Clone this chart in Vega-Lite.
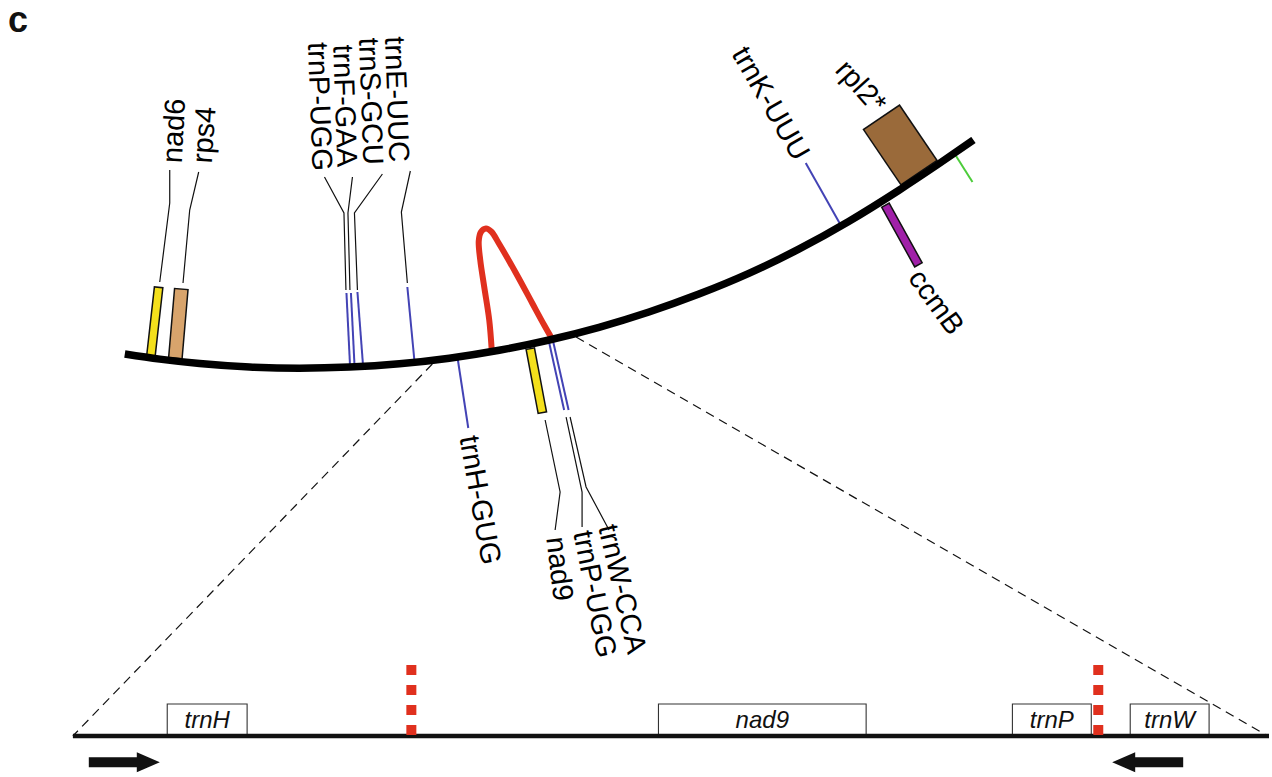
{
  "$schema": "https://vega.github.io/schema/vega-lite/v6.json",
  "width": 1272,
  "height": 777,
  "padding": 0,
  "autosize": {"type": "fit", "contains": "padding"},
  "background": "white",
  "config": {"view": {"stroke": null}, "font": "Liberation Sans"},
  "datasets": {
    "arc": [
      {"x": 125, "y": 354}, {"x": 160, "y": 359.1}, {"x": 200, "y": 363.5}, {"x": 250, "y": 367},
      {"x": 300, "y": 368.2}, {"x": 350, "y": 367.1}, {"x": 400, "y": 363.8}, {"x": 450, "y": 358.2},
      {"x": 500, "y": 350.3}, {"x": 550, "y": 340}, {"x": 600, "y": 327.3}, {"x": 650, "y": 312},
      {"x": 700, "y": 294.1}, {"x": 750, "y": 273.4}, {"x": 800, "y": 249.2}, {"x": 850, "y": 221.5},
      {"x": 900, "y": 190.5}, {"x": 940, "y": 164}, {"x": 975, "y": 140}
    ],
    "loop": [
      {"o": 0, "x": 492.5, "y": 350}, {"o": 1, "x": 490, "y": 320}, {"o": 2, "x": 485, "y": 287},
      {"o": 3, "x": 481, "y": 260}, {"o": 4, "x": 479.5, "y": 241}, {"o": 5, "x": 481.7, "y": 232},
      {"o": 6, "x": 486.7, "y": 228.5}, {"o": 7, "x": 492, "y": 231.5}, {"o": 8, "x": 500, "y": 244},
      {"o": 9, "x": 516.7, "y": 273}, {"o": 10, "x": 533, "y": 303}, {"o": 11, "x": 545, "y": 325},
      {"o": 12, "x": 553, "y": 339}
    ],
    "genes": [
      {"gene": "nad6", "family": "nad", "group": "thin", "x": 151.6, "y": 352, "x2": 158.4, "y2": 291.5},
      {"gene": "rps4", "family": "rps", "group": "mid", "x": 176.2, "y": 351.5, "x2": 181, "y2": 295.8},
      {"gene": "nad9", "family": "nad", "group": "thin", "x": 531.9, "y": 352.9, "x2": 542.4, "y2": 408.4},
      {"gene": "rpl2", "family": "rpl", "group": "wide", "x": 908.2, "y": 154.6, "x2": 895.1, "y2": 135.3},
      {"gene": "ccmB", "family": "ccm", "group": "thin", "x": 888.9, "y": 208.9, "x2": 917.8, "y2": 261.1}
    ],
    "trna": [
      {"name": "trnP-UGG", "kind": "trna", "x": 347, "y": 293, "x2": 350.5, "y2": 364},
      {"name": "trnF-GAA", "kind": "trna", "x": 351.5, "y": 293, "x2": 355, "y2": 364},
      {"name": "trnS-GCU", "kind": "trna", "x": 358, "y": 292, "x2": 363.5, "y2": 364},
      {"name": "trnE-UUC", "kind": "trna", "x": 408, "y": 287, "x2": 415, "y2": 360},
      {"name": "trnH-GUG", "kind": "trna", "x": 458, "y": 356, "x2": 469, "y2": 428},
      {"name": "trnP-UGG b", "kind": "trna", "x": 549, "y": 338, "x2": 565, "y2": 410},
      {"name": "trnW-CCA", "kind": "trna", "x": 553, "y": 337, "x2": 569.5, "y2": 410},
      {"name": "trnK-UUU", "kind": "trna", "x": 807, "y": 163, "x2": 842, "y2": 225},
      {"name": "other", "kind": "other", "x": 955, "y": 152, "x2": 974, "y2": 182}
    ],
    "leaders": [
      {"id": "nad6", "o": 0, "x": 160, "y": 282}, {"id": "nad6", "o": 1, "x": 170, "y": 203}, {"id": "nad6", "o": 2, "x": 170, "y": 170},
      {"id": "rps4", "o": 0, "x": 183.3, "y": 283}, {"id": "rps4", "o": 1, "x": 190, "y": 210}, {"id": "rps4", "o": 2, "x": 199, "y": 172},
      {"id": "trnP", "o": 0, "x": 346.5, "y": 290}, {"id": "trnP", "o": 1, "x": 344.5, "y": 213}, {"id": "trnP", "o": 2, "x": 325, "y": 177},
      {"id": "trnF", "o": 0, "x": 350.5, "y": 290}, {"id": "trnF", "o": 1, "x": 348.5, "y": 213}, {"id": "trnF", "o": 2, "x": 353, "y": 177},
      {"id": "trnS", "o": 0, "x": 358, "y": 290}, {"id": "trnS", "o": 1, "x": 355, "y": 213}, {"id": "trnS", "o": 2, "x": 383, "y": 174},
      {"id": "trnE", "o": 0, "x": 408, "y": 283}, {"id": "trnE", "o": 1, "x": 402, "y": 212}, {"id": "trnE", "o": 2, "x": 411, "y": 171},
      {"id": "nad9", "o": 0, "x": 546, "y": 420}, {"id": "nad9", "o": 1, "x": 561, "y": 492}, {"id": "nad9", "o": 2, "x": 556, "y": 530},
      {"id": "trnPb", "o": 0, "x": 567, "y": 417}, {"id": "trnPb", "o": 1, "x": 583, "y": 492}, {"id": "trnPb", "o": 2, "x": 583, "y": 527},
      {"id": "trnW", "o": 0, "x": 571, "y": 417}, {"id": "trnW", "o": 1, "x": 587, "y": 487}, {"id": "trnW", "o": 2, "x": 610, "y": 530}
    ],
    "labels": [
      {"text": "trnP-UGG", "anchor": "end", "x": 322, "y": 171, "angle": 88},
      {"text": "trnF-GAA", "anchor": "end", "x": 347, "y": 167, "angle": 88},
      {"text": "trnS-GCU", "anchor": "end", "x": 373, "y": 165, "angle": 88},
      {"text": "trnE-UUC", "anchor": "end", "x": 399, "y": 162, "angle": 88},
      {"text": "trnK-UUU", "anchor": "end", "x": 803, "y": 158, "angle": 60},
      {"text": "rpl2*", "anchor": "end", "x": 882, "y": 109, "angle": 48},
      {"text": "nad6", "anchor": "start", "x": 173, "y": 163, "angle": -87},
      {"text": "rps4", "anchor": "start", "x": 203, "y": 163, "angle": -86},
      {"text": "ccmB", "anchor": "start", "x": 916, "y": 273, "angle": 54},
      {"text": "trnH-GUG", "anchor": "start", "x": 469, "y": 436, "angle": 80},
      {"text": "nad9", "anchor": "start", "x": 556, "y": 537, "angle": 83},
      {"text": "trnP-UGG", "anchor": "start", "x": 583, "y": 531, "angle": 79},
      {"text": "trnW-CCA", "anchor": "start", "x": 608, "y": 525, "angle": 77}
    ],
    "zoom": [
      {"x": 433, "y": 364, "x2": 73, "y2": 736},
      {"x": 577, "y": 337, "x2": 1270, "y2": 736}
    ],
    "track": [{"x": 73, "y": 736, "x2": 1271, "y2": 736}],
    "features": [
      {"name": "trnH", "x": 167.5, "x2": 247.5, "xm": 207.5, "y": 704, "y2": 736, "ym": 721},
      {"name": "nad9", "x": 659.5, "x2": 867.5, "xm": 763.5, "y": 704, "y2": 736, "ym": 721},
      {"name": "trnP", "x": 1014, "x2": 1093, "xm": 1053.5, "y": 704, "y2": 736, "ym": 721},
      {"name": "trnW", "x": 1132, "x2": 1211, "xm": 1171.5, "y": 704, "y2": 736, "ym": 721}
    ],
    "reddots": [
      {"x": 412, "y": 665, "y2": 736},
      {"x": 1100, "y": 665, "y2": 736}
    ],
    "arrows": [
      {"dir": "forward", "x": 124.5, "y": 762.3},
      {"dir": "reverse", "x": 1149.5, "y": 762.3}
    ],
    "panel": [{"text": "c", "x": 8, "y": 32}]
  },
  "layer": [
    {
      "data": {"name": "zoom"},
      "mark": {"type": "rule", "color": "#111", "strokeWidth": 1.2, "strokeDash": [9, 6]},
      "encoding": {
        "x": {"field": "x", "type": "quantitative", "scale": {"domain": [0, 1272], "nice": false, "zero": false}, "axis": null},
        "y": {"field": "y", "type": "quantitative", "scale": {"domain": [0, 777], "nice": false, "zero": false, "reverse": true}, "axis": null},
        "x2": {"field": "x2"},
        "y2": {"field": "y2"}
      }
    },
    {
      "data": {"name": "features"},
      "mark": {"type": "rect", "fill": "white", "stroke": "#333", "strokeWidth": 1.1},
      "encoding": {
        "x": {"field": "x", "type": "quantitative", "scale": {"domain": [0, 1272], "nice": false, "zero": false}, "axis": null},
        "y": {"field": "y", "type": "quantitative", "scale": {"domain": [0, 777], "nice": false, "zero": false, "reverse": true}, "axis": null},
        "x2": {"field": "x2"},
        "y2": {"field": "y2"}
      }
    },
    {
      "data": {"name": "features"},
      "mark": {"type": "text", "align": "center", "baseline": "middle", "fontSize": 24, "fontStyle": "italic", "font": "Liberation Sans", "color": "#111"},
      "encoding": {
        "x": {"field": "xm", "type": "quantitative", "scale": {"domain": [0, 1272], "nice": false, "zero": false}, "axis": null},
        "y": {"field": "ym", "type": "quantitative", "scale": {"domain": [0, 777], "nice": false, "zero": false, "reverse": true}, "axis": null},
        "text": {"field": "name"}
      }
    },
    {
      "data": {"name": "track"},
      "mark": {"type": "rule", "color": "#111", "strokeWidth": 4.5},
      "encoding": {
        "x": {"field": "x", "type": "quantitative", "scale": {"domain": [0, 1272], "nice": false, "zero": false}, "axis": null},
        "y": {"field": "y", "type": "quantitative", "scale": {"domain": [0, 777], "nice": false, "zero": false, "reverse": true}, "axis": null},
        "x2": {"field": "x2"},
        "y2": {"field": "y2"}
      }
    },
    {
      "data": {"name": "reddots"},
      "mark": {"type": "rule", "color": "#e0301e", "strokeWidth": 10, "strokeDash": [10, 10]},
      "encoding": {
        "x": {"field": "x", "type": "quantitative", "scale": {"domain": [0, 1272], "nice": false, "zero": false}, "axis": null},
        "y": {"field": "y", "type": "quantitative", "scale": {"domain": [0, 777], "nice": false, "zero": false, "reverse": true}, "axis": null},
        "y2": {"field": "y2"}
      }
    },
    {
      "data": {"name": "arrows"},
      "mark": {"type": "point", "filled": true, "color": "#111", "opacity": 1, "size": 5041, "strokeWidth": 0},
      "encoding": {
        "x": {"field": "x", "type": "quantitative", "scale": {"domain": [0, 1272], "nice": false, "zero": false}, "axis": null},
        "y": {"field": "y", "type": "quantitative", "scale": {"domain": [0, 777], "nice": false, "zero": false, "reverse": true}, "axis": null},
        "shape": {"field": "dir", "type": "nominal", "legend": null, "scale": {"domain": ["forward", "reverse"], "range": ["M-1,-0.141L0.352,-0.141L0.352,-0.282L1,0L0.352,0.282L0.352,0.141L-1,0.141Z", "M1,-0.141L-0.352,-0.141L-0.352,-0.282L-1,0L-0.352,0.282L-0.352,0.141L1,0.141Z"]}}
      }
    },
    {
      "data": {"name": "trna"},
      "mark": {"type": "rule", "strokeWidth": 2},
      "encoding": {
        "x": {"field": "x", "type": "quantitative", "scale": {"domain": [0, 1272], "nice": false, "zero": false}, "axis": null},
        "y": {"field": "y", "type": "quantitative", "scale": {"domain": [0, 777], "nice": false, "zero": false, "reverse": true}, "axis": null},
        "x2": {"field": "x2"},
        "y2": {"field": "y2"},
        "color": {"field": "kind", "type": "nominal", "legend": null, "scale": {"domain": ["trna", "other"], "range": ["#4343b5", "#4ccc3a"]}}
      }
    },
    {
      "data": {"name": "leaders"},
      "mark": {"type": "line", "color": "#111", "strokeWidth": 1.2},
      "encoding": {
        "x": {"field": "x", "type": "quantitative", "scale": {"domain": [0, 1272], "nice": false, "zero": false}, "axis": null},
        "y": {"field": "y", "type": "quantitative", "scale": {"domain": [0, 777], "nice": false, "zero": false, "reverse": true}, "axis": null},
        "detail": {"field": "id"},
        "order": {"field": "o", "type": "quantitative"}
      }
    },
    {
      "data": {"name": "genes"},
      "transform": [{"filter": "datum.group === 'thin'"}],
      "mark": {"type": "rule", "color": "#111", "strokeCap": "square", "strokeWidth": 10},
      "encoding": {
        "x": {"field": "x", "type": "quantitative", "scale": {"domain": [0, 1272], "nice": false, "zero": false}, "axis": null},
        "y": {"field": "y", "type": "quantitative", "scale": {"domain": [0, 777], "nice": false, "zero": false, "reverse": true}, "axis": null},
        "x2": {"field": "x2"},
        "y2": {"field": "y2"}
      }
    },
    {
      "data": {"name": "genes"},
      "transform": [{"filter": "datum.group === 'thin'"}],
      "mark": {"type": "rule", "strokeCap": "square", "strokeWidth": 7},
      "encoding": {
        "x": {"field": "x", "type": "quantitative", "scale": {"domain": [0, 1272], "nice": false, "zero": false}, "axis": null},
        "y": {"field": "y", "type": "quantitative", "scale": {"domain": [0, 777], "nice": false, "zero": false, "reverse": true}, "axis": null},
        "x2": {"field": "x2"},
        "y2": {"field": "y2"},
        "color": {"field": "family", "type": "nominal", "legend": null, "scale": {"domain": ["nad", "rps", "rpl", "ccm"], "range": ["#f4e01c", "#d8a46c", "#9a6a3a", "#a020a8"]}}
      }
    },
    {
      "data": {"name": "genes"},
      "transform": [{"filter": "datum.group === 'mid'"}],
      "mark": {"type": "rule", "color": "#111", "strokeCap": "square", "strokeWidth": 15},
      "encoding": {
        "x": {"field": "x", "type": "quantitative", "scale": {"domain": [0, 1272], "nice": false, "zero": false}, "axis": null},
        "y": {"field": "y", "type": "quantitative", "scale": {"domain": [0, 777], "nice": false, "zero": false, "reverse": true}, "axis": null},
        "x2": {"field": "x2"},
        "y2": {"field": "y2"}
      }
    },
    {
      "data": {"name": "genes"},
      "transform": [{"filter": "datum.group === 'mid'"}],
      "mark": {"type": "rule", "strokeCap": "square", "strokeWidth": 12},
      "encoding": {
        "x": {"field": "x", "type": "quantitative", "scale": {"domain": [0, 1272], "nice": false, "zero": false}, "axis": null},
        "y": {"field": "y", "type": "quantitative", "scale": {"domain": [0, 777], "nice": false, "zero": false, "reverse": true}, "axis": null},
        "x2": {"field": "x2"},
        "y2": {"field": "y2"},
        "color": {"field": "family", "type": "nominal", "legend": null, "scale": {"domain": ["nad", "rps", "rpl", "ccm"], "range": ["#f4e01c", "#d8a46c", "#9a6a3a", "#a020a8"]}}
      }
    },
    {
      "data": {"name": "genes"},
      "transform": [{"filter": "datum.group === 'wide'"}],
      "mark": {"type": "rule", "color": "#111", "strokeCap": "square", "strokeWidth": 45},
      "encoding": {
        "x": {"field": "x", "type": "quantitative", "scale": {"domain": [0, 1272], "nice": false, "zero": false}, "axis": null},
        "y": {"field": "y", "type": "quantitative", "scale": {"domain": [0, 777], "nice": false, "zero": false, "reverse": true}, "axis": null},
        "x2": {"field": "x2"},
        "y2": {"field": "y2"}
      }
    },
    {
      "data": {"name": "genes"},
      "transform": [{"filter": "datum.group === 'wide'"}],
      "mark": {"type": "rule", "strokeCap": "square", "strokeWidth": 42},
      "encoding": {
        "x": {"field": "x", "type": "quantitative", "scale": {"domain": [0, 1272], "nice": false, "zero": false}, "axis": null},
        "y": {"field": "y", "type": "quantitative", "scale": {"domain": [0, 777], "nice": false, "zero": false, "reverse": true}, "axis": null},
        "x2": {"field": "x2"},
        "y2": {"field": "y2"},
        "color": {"field": "family", "type": "nominal", "legend": null, "scale": {"domain": ["nad", "rps", "rpl", "ccm"], "range": ["#f4e01c", "#d8a46c", "#9a6a3a", "#a020a8"]}}
      }
    },
    {
      "data": {"name": "loop"},
      "mark": {"type": "line", "color": "#e0301e", "strokeWidth": 6, "interpolate": "catmull-rom"},
      "encoding": {
        "x": {"field": "x", "type": "quantitative", "scale": {"domain": [0, 1272], "nice": false, "zero": false}, "axis": null},
        "y": {"field": "y", "type": "quantitative", "scale": {"domain": [0, 777], "nice": false, "zero": false, "reverse": true}, "axis": null},
        "order": {"field": "o", "type": "quantitative"}
      }
    },
    {
      "data": {"name": "arc"},
      "mark": {"type": "line", "color": "#000", "strokeWidth": 7.5, "interpolate": "monotone"},
      "encoding": {
        "x": {"field": "x", "type": "quantitative", "scale": {"domain": [0, 1272], "nice": false, "zero": false}, "axis": null},
        "y": {"field": "y", "type": "quantitative", "scale": {"domain": [0, 777], "nice": false, "zero": false, "reverse": true}, "axis": null}
      }
    },
    {
      "data": {"name": "labels"},
      "transform": [{"filter": "datum.anchor === 'end'"}],
      "mark": {"type": "text", "align": "right", "baseline": "middle", "fontSize": 29, "font": "Liberation Sans", "color": "#000"},
      "encoding": {
        "x": {"field": "x", "type": "quantitative", "scale": {"domain": [0, 1272], "nice": false, "zero": false}, "axis": null},
        "y": {"field": "y", "type": "quantitative", "scale": {"domain": [0, 777], "nice": false, "zero": false, "reverse": true}, "axis": null},
        "text": {"field": "text"},
        "angle": {"field": "angle", "type": "quantitative", "scale": null}
      }
    },
    {
      "data": {"name": "labels"},
      "transform": [{"filter": "datum.anchor === 'start'"}],
      "mark": {"type": "text", "align": "left", "baseline": "middle", "fontSize": 29, "font": "Liberation Sans", "color": "#000"},
      "encoding": {
        "x": {"field": "x", "type": "quantitative", "scale": {"domain": [0, 1272], "nice": false, "zero": false}, "axis": null},
        "y": {"field": "y", "type": "quantitative", "scale": {"domain": [0, 777], "nice": false, "zero": false, "reverse": true}, "axis": null},
        "text": {"field": "text"},
        "angle": {"field": "angle", "type": "quantitative", "scale": null}
      }
    },
    {
      "data": {"name": "panel"},
      "mark": {"type": "text", "align": "left", "baseline": "alphabetic", "fontSize": 36, "fontWeight": "bold", "font": "Liberation Sans", "color": "#111"},
      "encoding": {
        "x": {"field": "x", "type": "quantitative", "scale": {"domain": [0, 1272], "nice": false, "zero": false}, "axis": null},
        "y": {"field": "y", "type": "quantitative", "scale": {"domain": [0, 777], "nice": false, "zero": false, "reverse": true}, "axis": null},
        "text": {"field": "text"}
      }
    }
  ],
  "resolve": {"scale": {"color": "independent", "shape": "independent"}}
}
